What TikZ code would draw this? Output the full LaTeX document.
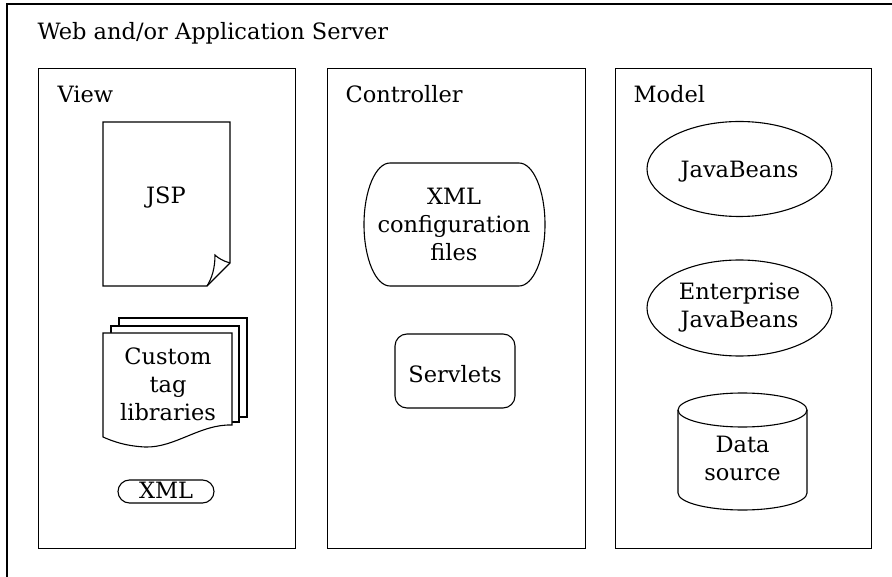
\documentclass[tikz,border=0pt]{standalone}
\usepackage{fontspec}
\setmainfont{DejaVu Serif}
\usetikzlibrary{shapes.geometric}
\begin{document}
\begin{tikzpicture}[x=1pt,y=-1pt,line width=1.1pt,
  every node/.style={inner sep=0pt, font=\fontsize{22.5}{28}\selectfont},
  lbl/.style={anchor=base west},
  txt/.style={align=center},
  tier/.style={draw, anchor=north west, minimum width=#1, minimum height=480},
  page/.style={draw, fill=white}]
\useasboundingbox (0,0) rectangle (892,577);
\clip (0,0) rectangle (892,577);
% outer server frame (extends beyond the picture)
\draw (7,4) rectangle (910,600);
\node[lbl] (title) at (37,40) {Web and/or Application Server};
% tiers
\node[tier=257] (view) at (38,68) {};
\node[tier=258] (ctrl) at (327,68) {};
\node[tier=256] (model) at (615,68) {};
\node[lbl] (viewlbl) at (57,103) {View};
\node[lbl] (ctrllbl) at (345,103) {Controller};
\node[lbl] (modellbl) at (633,103) {Model};
% ---- View: JSP page with curled corner
\draw[page] (103,122) -- (230,122) -- (230,263) -- (207,286) -- (103,286) -- cycle;
\draw (230,263) .. controls (223,261) and (218,258) .. (215,255)
      .. controls (215,268) and (212,278) .. (207,286);
\node[anchor=base] (jsp) at (166,204) {JSP};
% ---- View: custom tag libraries (stack of documents)
\draw[page] (119,318) rectangle (247,417);
\draw[page] (111,326) rectangle (239,422);
\draw[page] (103,333) -- (232,333) -- (232,425)
      .. controls (200,424) and (175,448) .. (145,447)
      .. controls (125,446) and (112,441) .. (103,437) -- cycle;
\node[txt] (ctl) at (168,384.7) {Custom\\tag\\libraries};
% ---- View: XML
\node[draw, rounded corners=11.5pt, minimum width=96, minimum height=23,
      text height=13.6, text depth=0pt] (xml) at (166,491.5) {XML};
% ---- Controller: XML configuration files
\draw (390,163) -- (519,163)
      arc[start angle=-90, end angle=90, x radius=26, y radius=61.5]
      -- (390,286)
      arc[start angle=90, end angle=270, x radius=26, y radius=61.5] -- cycle;
\node[txt] (cfg) at (454,224.8) {XML\\configuration\\files};
% ---- Controller: Servlets
\node[draw, rounded corners=12pt, minimum width=120, minimum height=74,
      text height=22, text depth=0pt] (srv) at (455,371) {Servlets};
% ---- Model
\node[draw, ellipse, minimum width=185, minimum height=95,
      text height=18, text depth=0pt] (jb) at (739.5,169) {JavaBeans};
\node[draw, ellipse, minimum width=185, minimum height=96, txt] (ejb) at (739.5,308) {Enterprise\\JavaBeans};
\draw (742.5,410) ellipse [x radius=64.5, y radius=17];
\draw (678,410) -- (678,493)
      arc[start angle=180, end angle=0, x radius=64.5, y radius=17] -- (807,410);
\node[txt] (ds) at (742.5,458.8) {Data\\source};
\end{tikzpicture}
\end{document}
